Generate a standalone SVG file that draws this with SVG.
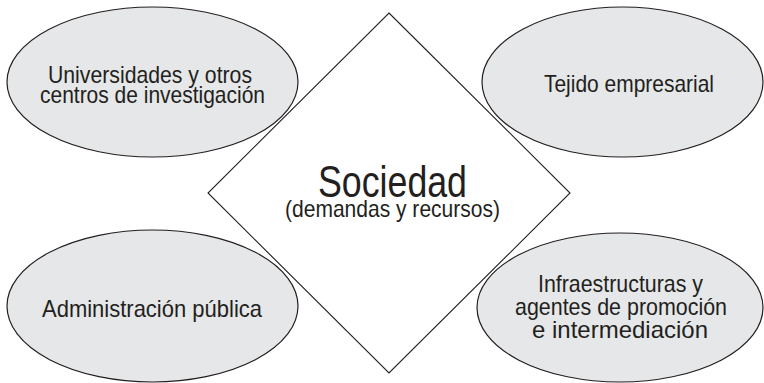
<svg xmlns="http://www.w3.org/2000/svg" width="764" height="383" viewBox="0 0 764 383">
<style>
.bg{fill:#ffffff}
.ell{fill:#e6e7e8;stroke:#231f20;stroke-width:1.2}
.dia{fill:#ffffff;stroke:#231f20;stroke-width:1.1}
.t{font-family:"Liberation Sans",Arial,sans-serif;font-size:24px;fill:#231f20;text-anchor:middle}
.big{font-size:44px}
</style>
<rect class="bg" x="0" y="0" width="764" height="383"/>
<g id="sociedad">
<polygon class="dia" points="389,13 570,193 389,373 208,193"/>
<text class="t big" x="392.5" y="197" textLength="149" lengthAdjust="spacingAndGlyphs">Sociedad</text>
<text class="t" x="392.5" y="217" textLength="215" lengthAdjust="spacingAndGlyphs">(demandas y recursos)</text>
</g>
<g id="universidades">
<ellipse class="ell" cx="152.5" cy="82" rx="145.5" ry="75"/>
<text class="t" x="150" y="82.5" textLength="204" lengthAdjust="spacingAndGlyphs">Universidades y otros</text>
<text class="t" x="152.5" y="103" textLength="225" lengthAdjust="spacingAndGlyphs">centros de investigación</text>
</g>
<g id="tejido">
<ellipse class="ell" cx="622.5" cy="82" rx="140.5" ry="75"/>
<text class="t" x="629" y="92" textLength="170" lengthAdjust="spacingAndGlyphs">Tejido empresarial</text>
</g>
<g id="administracion">
<ellipse class="ell" cx="152.5" cy="306" rx="145.5" ry="76"/>
<text class="t" x="152" y="317" textLength="220" lengthAdjust="spacingAndGlyphs">Administración pública</text>
</g>
<g id="infraestructuras">
<ellipse class="ell" cx="620" cy="307.5" rx="143" ry="74.5"/>
<text class="t" x="620.5" y="292" textLength="165" lengthAdjust="spacingAndGlyphs">Infraestructuras y</text>
<text class="t" x="621" y="315" textLength="212" lengthAdjust="spacingAndGlyphs">agentes de promoción</text>
<text class="t" x="620" y="338" textLength="176" lengthAdjust="spacingAndGlyphs">e intermediación</text>
</g>
<g id="connectors"></g>
</svg>
